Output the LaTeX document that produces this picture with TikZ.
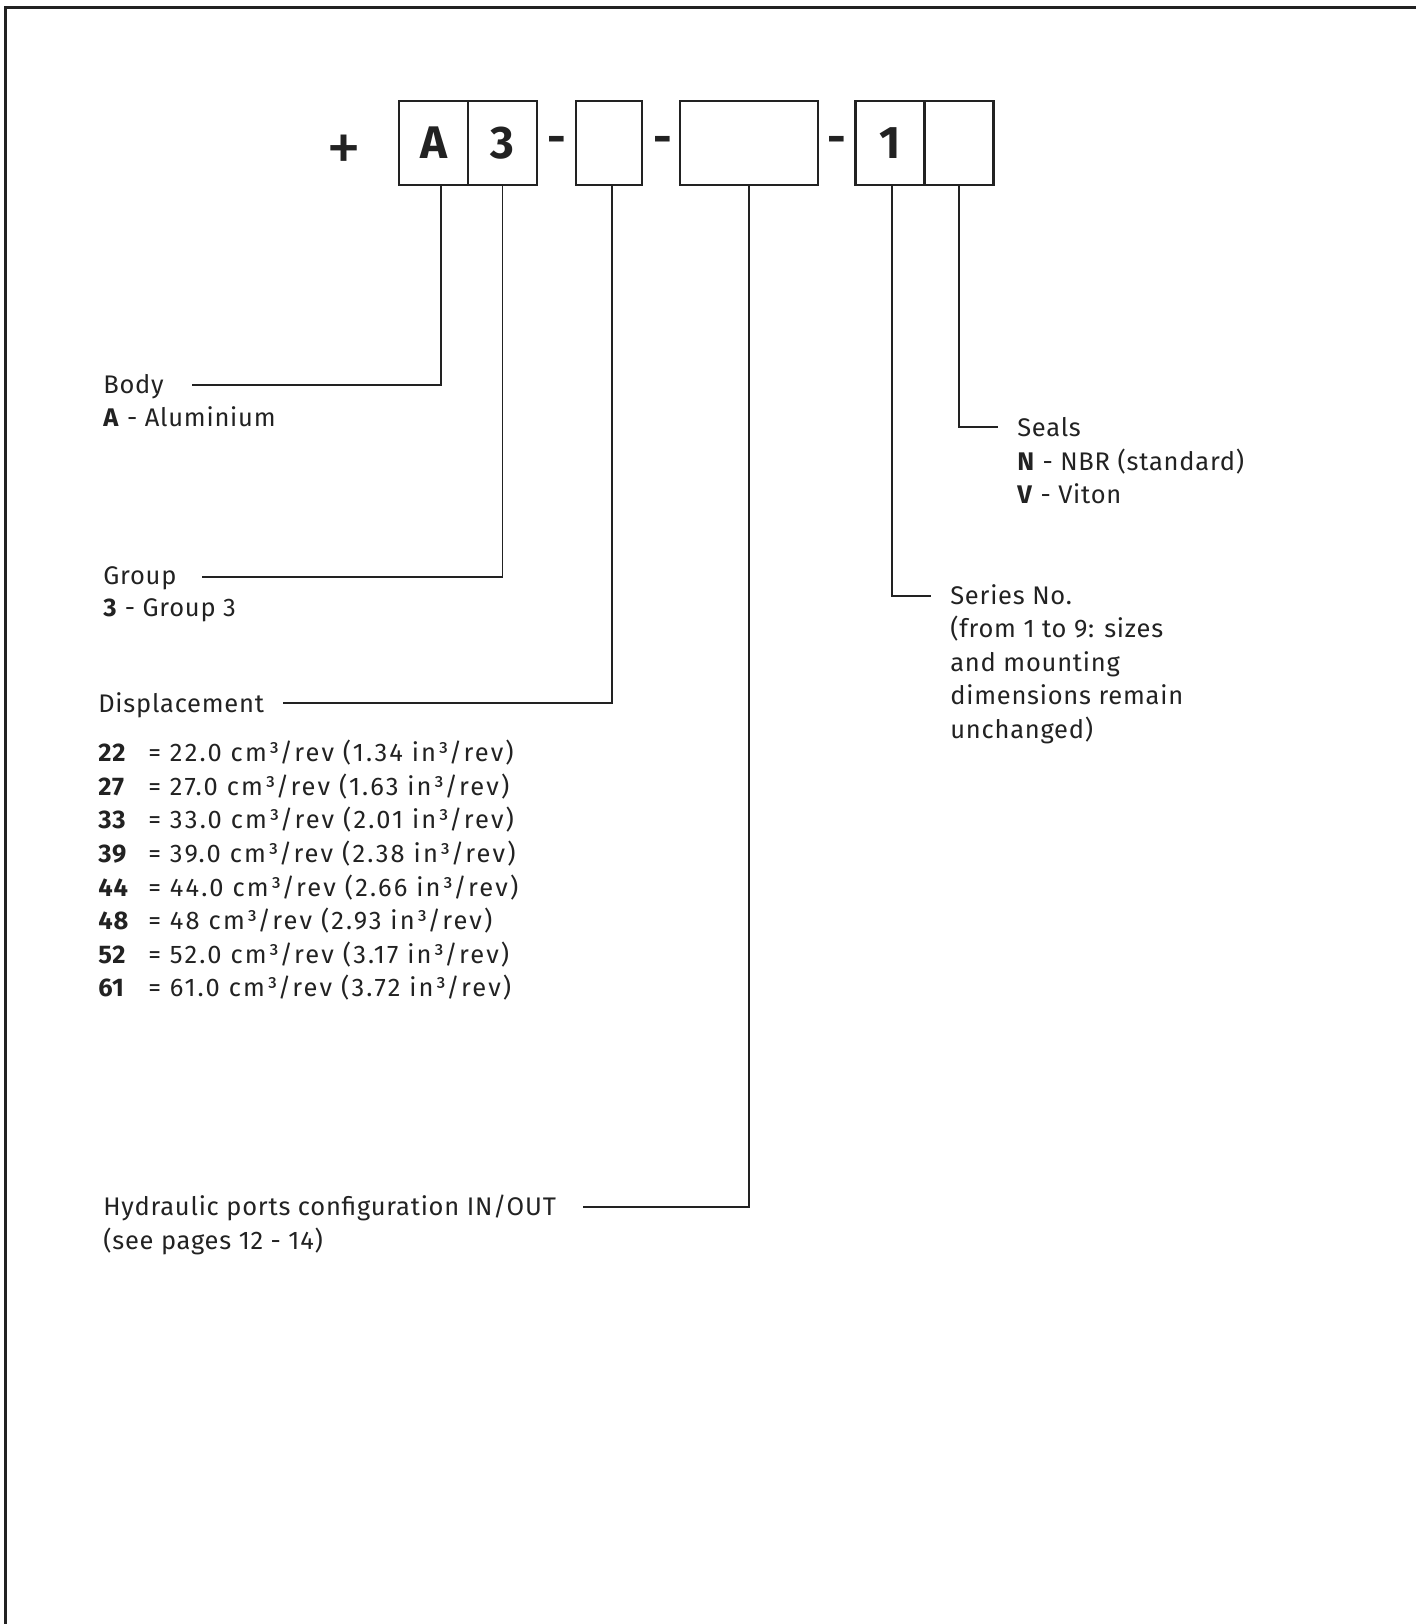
\documentclass[tikz,border=0pt]{standalone}
\usepackage{fontspec}
\setmainfont{Fira Sans}[LetterSpace=3]
\newfontfamily\rowfont{Fira Sans}[LetterSpace=8.5]
\usetikzlibrary{positioning}

\definecolor{ink}{HTML}{222222}

\tikzset{
  cell/.style={draw=ink, line width=1.2pt, minimum height=1.68cm, inner sep=0pt, outer sep=0pt,
    text=ink, font=\fontsize{26}{30}\selectfont\bfseries},
  lead/.style={draw=ink, line width=1.1pt},
  lbl/.style={anchor=base west, inner sep=0pt, text=ink, font=\fontsize{14.5}{19}\selectfont},
  sepmark/.style={anchor=base, inner sep=0pt, text=ink, font=\fontsize{26}{30}\selectfont\bfseries}
}

\begin{document}
\begin{tikzpicture}[x=0.02cm, y=-0.02cm]
\useasboundingbox (0,0) rectangle (1416,1624);

% frame
\draw[ink, line width=1.7pt] (5.5,1624) -- (5.5,7) -- (1416,7);

% code boxes
\node[sepmark, font=\fontsize{40}{44}\selectfont\mdseries] (plus) at (344,171) {+};
\node[cell, minimum width=1.38cm] (cA) at (433.5,143) {A};
\node[cell, minimum width=1.38cm, right=0pt of cA] (cGroup) {3};
\node[sepmark] (dash1) at (556.5,153) {-};
\node[cell, minimum width=1.32cm] (cDispl) at (609,143) {};
\node[sepmark] (dash2) at (662.5,153) {-};
\node[cell, minimum width=2.75cm] (cPorts) at (749,143) {};
\node[sepmark] (dash3) at (836.5,153) {-};
\node[cell, minimum width=1.38cm] (cSeries) at (890,143) {1};
\node[cell, minimum width=1.38cm, right=0pt of cSeries] (cSeals) {};

% body
\node[lbl] (body) at (103,393.5) {Body};
\node[lbl] (bodyA) at (103,426.7) {\textbf{A} - Aluminium};
\coordinate (bodyEnd) at (191.6,385);
\draw[lead] ([xshift=0.15cm]cA.south) |- (bodyEnd);

% group
\node[lbl] (group) at (103,584) {Group};
\node[lbl] (group3) at (103,616.7) {\textbf{3} - Group 3};
\coordinate (groupEnd) at (202,576.7);
\draw[lead] (cGroup.south) |- (groupEnd);

% displacement
\node[lbl] (displ) at (98,712.7) {Displacement};
\coordinate (displEnd) at (283,703);
\draw[lead] ([xshift=0.06cm]cDispl.south) |- (displEnd);
\foreach \dn/\dcm/\din [count=\i from 0] in {22/22.0/1.34, 27/27.0/1.63, 33/33.0/2.01, 39/39.0/2.38,
    44/44.0/2.66, 48/48/2.93, 52/52.0/3.17, 61/61.0/3.72} {
  \node[lbl] (d\dn) at (98,{761.7+33.6*\i}) {\textbf{\dn}};
  \node[lbl] (dv\dn) at (148,{761.7+33.6*\i}) {\rowfont = \dcm{} cm³/rev (\din{} in³/rev)};
}

% ports
\node[lbl] (ports) at (103,1215.5) {Hydraulic ports configuration IN/OUT};
\node[lbl] (portsNote) at (103,1249) {(see pages 12 - 14)};
\coordinate (portsEnd) at (583,1207);
\draw[lead] (cPorts.south) |- (portsEnd);

% series
\foreach \t [count=\i from 0] in {{Series No.}, {(from 1 to 9: sizes}, {and mounting},
    {dimensions remain}, {unchanged)}} {
  \node[lbl] (series\i) at (950,{604+33.5*\i}) {\t};
}
\coordinate (seriesEnd) at (931,595.6);
\draw[lead] ([xshift=0.04cm]cSeries.south) |- (seriesEnd);

% seals
\node[lbl] (seals) at (1017,436.7) {Seals};
\node[lbl] (sealN) at (1017,470) {\textbf{N} - NBR (standard)};
\node[lbl] (sealV) at (1017,503) {\textbf{V} - Viton};
\coordinate (sealsEnd) at (998,426.7);
\draw[lead] (cSeals.south) |- (sealsEnd);
\end{tikzpicture}
\end{document}
